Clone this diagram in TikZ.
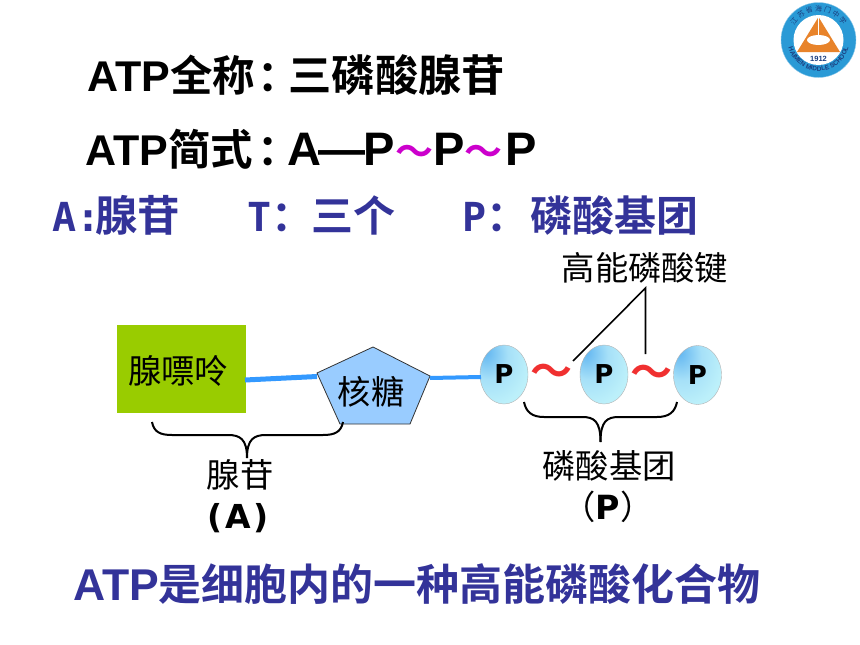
\documentclass[tikz,border=0pt]{standalone}
\usepackage{fontspec}
\usepackage{amsmath}
\usetikzlibrary{calc,decorations.text,shapes.geometric}
\setmainfont{Liberation Sans}
\newfontfamily\cjkb[BoldFont={Noto Sans CJK SC Bold}]{Noto Sans CJK SC}
\newfontfamily\monob[BoldFont={DejaVu Sans Mono Bold}]{DejaVu Sans Mono}
\newfontfamily\wideb[BoldFont={DejaVu Sans Bold}]{DejaVu Sans}
\definecolor{titleblue}{HTML}{333399}
\definecolor{linkblue}{HTML}{3399FF}
\definecolor{purinegreen}{HTML}{99CC00}
\definecolor{sugarblue}{HTML}{99CCFF}
\definecolor{tildepink}{HTML}{CC00CC}
\definecolor{tildered}{HTML}{F03030}
\definecolor{logoblue}{HTML}{2A9AD6}
\definecolor{logonavy}{HTML}{1B3F80}
\definecolor{logoorange}{HTML}{E8832A}
\definecolor{ballA}{HTML}{5FB4F0}
\definecolor{ballB}{HTML}{A6E0F8}
\definecolor{ballC}{HTML}{BCF0FA}
\pgfdeclareradialshading{pball}{\pgfpoint{-20bp}{20bp}}{color(0bp)=(ballA); color(20bp)=(ballB); color(38bp)=(ballC); color(100bp)=(ballC)}
\newcommand{\bigfont}{\fontsize{43}{43}\selectfont}
\newcommand{\cjkbig}{\fontsize{42.5}{42.5}\selectfont\cjkb}
\newcommand{\labfont}{\fontsize{33.3}{33.3}\selectfont}
\tikzset{
  head/.style={anchor=base west,inner sep=0pt,font=\bigfont\bfseries},
  keyline/.style={head,text=titleblue,font=\fontsize{40}{40}\selectfont\bfseries\monob},
  lab/.style={inner sep=0pt,font=\labfont\cjkb},
  pgroup/.style={ellipse,draw=black!30,shading=pball,minimum width=48,minimum height=59,inner sep=0pt,font=\fontsize{26}{26}\selectfont\wideb\bfseries},
  link/.style={draw=linkblue,line width=5},
  brace/.style={draw=black,line width=2},
  tilde/.style={inner sep=0pt,text=tildered,font=\fontsize{42}{42}\selectfont\bfseries\cjkb},
}
\begin{document}
\begin{tikzpicture}[x=1pt,y=-1pt]
  \useasboundingbox (0,0) rectangle (860,645);
  % heading lines
  \node[head] (fullname) at (87,91) {ATP{\cjkbig 全称\kern3pt：\kern-12pt{\fontsize{43.3}{43.3}\selectfont 三磷酸腺苷}}};
  \node[head] (formula) at (85,165) {ATP{\cjkbig 简式\kern4pt：\kern-12.5pt}{\fontsize{47}{47}\selectfont A\kern-2pt—\kern-2pt P\textcolor{tildepink}{\fontsize{38}{38}\selectfont\cjkb ～}P\textcolor{tildepink}{\fontsize{38}{38}\selectfont\cjkb ～}\kern3pt P}};
  \node[keyline] (keyA) at (52,231) {A:\kern-5pt{\fontsize{42.5}{42.5}\selectfont\cjkb 腺苷}};
  \node[keyline] (keyT) at (247,231) {T{\fontsize{42}{42}\selectfont\cjkb ：\kern-2pt 三个}};
  \node[keyline] (keyP) at (462,231) {P{\fontsize{42}{42}\selectfont\cjkb ：\kern2pt 磷酸基团}};
  \node[head,text=titleblue,font=\fontsize{44.5}{44.5}\selectfont\bfseries] (summary) at (73,600) {ATP{\fontsize{43}{43}\selectfont\cjkb 是细胞内的一种高能磷酸化合物}};
  % adenosine part
  \node[fill=purinegreen,minimum width=129,minimum height=88,inner sep=0pt] (purine) at (181.5,369) {};
  \node[lab] (purinetxt) at (178,371) {腺嘌呤};
  \coordinate (sugarT) at (373,347);
  \coordinate (sugarR) at (430,376);
  \coordinate (sugarB) at (410,424);
  \coordinate (sugarA) at (340,424);
  \coordinate (sugarL) at (317,373);
  \draw[fill=sugarblue,draw=black!80,line width=.8] (sugarT) -- (sugarR) -- (sugarB) -- (sugarA) -- (sugarL) -- cycle;
  \node[lab] (sugar) at (371,392) {核糖};
  % phosphates
  \node[pgroup] (p1) at (504,374.5) {\raisebox{-2.5pt}{P}};
  \node[pgroup] (p2) at (604,374.5) {\raisebox{-2.5pt}{P}};
  \node[pgroup] (p3) at (697.5,375) {\raisebox{-2.5pt}{P}};
  \node[tilde] (bond1) at (551,375) {～};
  \node[tilde] (bond2) at (651,376) {～};
  % links
  \coordinate (purineR) at (245,380);
  \coordinate (sugarL2) at (317,376.5);
  \coordinate (sugarR2) at (430,378);
  \coordinate (p1L) at (481,377);
  \draw[link] (purineR) -- (sugarL2);
  \draw[link,line width=4] (sugarR2) -- (p1L);
  % high energy bonds
  \node[lab] (hibond) at (645,268) {高能磷酸键};
  \coordinate (apex) at (645.5,288);
  \coordinate (tipA) at (573,361);
  \coordinate (tipB) at (645.5,354);
  \draw[black,line width=1.6] (tipA) -- (apex) -- (tipB);
  % braces
  \coordinate (adoL) at (152,422);
  \coordinate (adoR) at (343,422);
  \coordinate (adoTip) at (247,458);
  \coordinate (phoL) at (524,402);
  \coordinate (phoR) at (677,402);
  \coordinate (phoTip) at (600.5,442);
  \draw[brace] (adoL) .. controls (154,432) and (160,435) .. (172,435) -- (228,435)
    .. controls (240,435) and (247,439) .. (adoTip);
  \draw[brace] (adoR) .. controls (341,432) and (335,435) .. (323,435) -- (266,435)
    .. controls (254,435) and (247,439) .. (adoTip);
  \draw[brace] (phoL) .. controls (526,412) and (532,417) .. (544,417) -- (582,417)
    .. controls (594,417) and (600.5,421) .. (phoTip);
  \draw[brace] (phoR) .. controls (675,412) and (669,417) .. (657,417) -- (619,417)
    .. controls (607,417) and (600.5,421) .. (phoTip);
  \node[lab] (adotxt) at (240,475) {腺苷};
  \node[inner sep=0pt,font=\fontsize{33}{33}\selectfont\wideb\bfseries] (adoA) at (238,518) {(\kern3pt A\kern3pt)};
  \node[lab] (photxt) at (609,466) {磷酸基团};
  \node[inner sep=0pt,font=\labfont\cjkb] (phoP) at (608,507) {（{\wideb\bfseries P}）};
  % school badge
  \node[circle,fill=logoblue,draw=logoblue!50,minimum size=75,inner sep=0pt] (badge) at (818.5,40) {};
  \node[circle,fill=white,minimum size=50,inner sep=0pt] (badgein) at (badge) {};
  \coordinate (triT) at (818.5,17);
  \coordinate (triR) at (840,52);
  \coordinate (triL) at (797,52);
  \fill[logoorange] (triT) -- (triR) -- (triL) -- cycle;
  \node[ellipse,fill=white,minimum width=23,minimum height=10,inner sep=0pt] (triHole) at (818.5,40) {};
  \fill[white] (817.8,16) rectangle (819.2,36);
  \node[inner sep=0pt,text=logonavy,font=\fontsize{7.5}{7.5}\selectfont\bfseries] (year) at (818.5,59) {1912};
  \path[decorate,decoration={text along path,text align=center,text color=logonavy,text={|\fontsize{6.5}{6.5}\selectfont\bfseries|HAIMEN MIDDLE SCHOOL}}]
    (787.5,40) arc[start angle=180,end angle=360,radius=31,y radius=-31];
  \path[decorate,decoration={text along path,text align=center,text color=logonavy,text={|\fontsize{7}{7}\selectfont\cjkb|江 苏 省 海 门 中 学}}]
    (790,40) arc[start angle=180,end angle=0,radius=28.5,y radius=-28.5];
\end{tikzpicture}
\end{document}
